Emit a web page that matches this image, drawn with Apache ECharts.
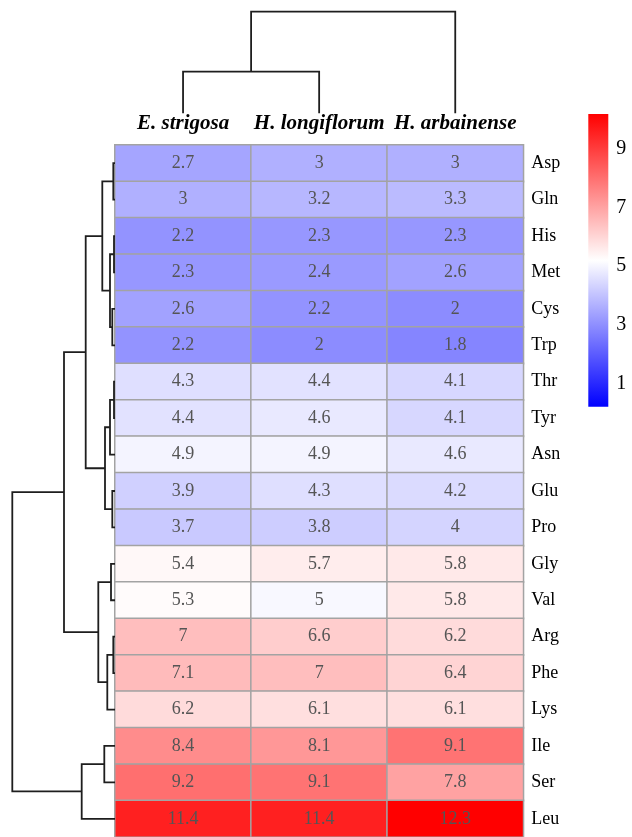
<!DOCTYPE html>
<html>
<head>
<meta charset="utf-8">
<script src="https://cdn.jsdelivr.net/npm/echarts@6/dist/echarts.min.js"></script>
<style>
html,body{margin:0;padding:0;background:#fff;}
#chart{width:632px;height:837px;}
</style>
</head>
<body>
<div id="chart"></div>
<script>
// ---- data ----
const colNames = ['E. strigosa', 'H. longiflorum', 'H. arbainense'];
const rowNames = ['Asp','Gln','His','Met','Cys','Trp','Thr','Tyr','Asn','Glu','Pro','Gly','Val','Arg','Phe','Lys','Ile','Ser','Leu'];
const eStrigosa    = [2.7, 3,   2.2, 2.3, 2.6, 2.2, 4.3, 4.4, 4.9, 3.9, 3.7, 5.4, 5.3, 7,   7.1, 6.2, 8.4, 9.2, 11.4];
const hLongiflorum = [3,   3.2, 2.3, 2.4, 2.2, 2,   4.4, 4.6, 4.9, 4.3, 3.8, 5.7, 5,   6.6, 7,   6.1, 8.1, 9.1, 11.4];
const hArbainense  = [3,   3.3, 2.3, 2.6, 2,   1.8, 4.1, 4.1, 4.6, 4.2, 4,   5.8, 5.8, 6.2, 6.4, 6.1, 9.1, 7.8, 12.3];
// row clustering (hclust-style merge: negative = leaf (1-based), positive = earlier merge), with heights
const rowMerge = [
  [-1, -2, 1.7],
  [-3, -4, 1.0],
  [-5, -6, 2.7],
  [2, 3, 5.0],
  [1, 4, 12.7],
  [-7, -8, 1.0],
  [6, -9, 5.0],
  [-10, -11, 2.7],
  [7, 8, 10.0],
  [5, 9, 29.3],
  [-12, -13, 4.0],
  [-14, -15, 1.7],
  [12, -16, 7.7],
  [11, 13, 16.7],
  [10, 14, 51.0],
  [-17, -18, 10.7],
  [16, -19, 33.3],
  [15, 17, 102.7]
];
const colMerge = [
  [-1, -2, 41.6],
  [1, -3, 101.6]
];
const legendTicks = [1, 3, 5, 7, 9];
const legendRange = [0.2, 10.2];

// ---- build ----
const columns = [eStrigosa, hLongiflorum, hArbainense];
const heatData = [];
columns.forEach((vals, ci) => vals.forEach((v, ri) => heatData.push([ci, ri, v])));

function buildLinks(merge) {
  const pos = [], hgt = [], out = [];
  const info = r => r < 0 ? { p: -r - 1, h: 0 } : { p: pos[r - 1], h: hgt[r - 1] };
  merge.forEach(([a, b, h]) => {
    const A = info(a), B = info(b);
    out.push([A.p, A.h, B.p, B.h, h]);
    pos.push((A.p + B.p) / 2);
    hgt.push(h);
  });
  return out;
}
const rowLinks = buildLinks(rowMerge);
const colLinks = buildLinks(colMerge);

const lineStyle = { stroke: '#1e1e1e', lineWidth: 1.8, fill: null };
function dendroRender(horizontal) {
  return function (params, api) {
    const ap = api.value(0), ah = api.value(1), bp = api.value(2), bh = api.value(3), h = api.value(4);
    const pt = (p, hh) => horizontal ? api.coord([hh, p]) : api.coord([p, hh]);
    return {
      type: 'polyline',
      shape: { points: [pt(ap, ah), pt(ap, h), pt(bp, h), pt(bp, bh)] },
      style: lineStyle
    };
  };
}
function legendRender(params, api) {
  const p0 = api.coord([0, api.value(1)]);
  const p1 = api.coord([1, api.value(0)]);
  return {
    type: 'rect',
    shape: { x: p0[0], y: p0[1], width: p1[0] - p0[0], height: p1[1] - p0[1] },
    style: {
      fill: new echarts.graphic.LinearGradient(0, 0, 0, 1, [
        { offset: 0, color: '#ff0000' },
        { offset: 0.5, color: '#ffffff' },
        { offset: 1, color: '#0000ff' }
      ])
    }
  };
}

const HM_LEFT = 115, HM_WIDTH = 408.3, HM_TOP = 145, HM_HEIGHT = 696.7;
const serif = '"Liberation Serif", "Times New Roman", serif';

const chart = echarts.init(document.getElementById('chart'), null, { renderer: 'canvas' });
chart.setOption({
  animation: false,
  backgroundColor: '#ffffff',
  grid: [
    { left: HM_LEFT, top: HM_TOP, width: HM_WIDTH, height: HM_HEIGHT, containLabel: false },      // heatmap
    { left: 12.3, top: HM_TOP, width: HM_LEFT - 12.3, height: HM_HEIGHT, containLabel: false },   // row dendrogram
    { left: HM_LEFT, top: 11.7, width: HM_WIDTH, height: 101.6, containLabel: false },            // col dendrogram
    { left: 588.3, top: 114, width: 20, height: 292.7, containLabel: false }                      // legend axis
  ],
  xAxis: [
    { type: 'category', gridIndex: 0, data: colNames, position: 'top',
      axisLine: { show: false }, axisTick: { show: false }, splitLine: { show: false },
      axisLabel: { interval: 0, hideOverlap: false, fontFamily: serif, fontSize: 21, fontWeight: 'bold', fontStyle: 'italic', color: '#000', margin: 11 } },
    { type: 'value', gridIndex: 1, min: 0, max: 102.7, inverse: true, show: false },
    { type: 'value', gridIndex: 2, min: -0.5, max: 2.5, show: false },
    { type: 'value', gridIndex: 3, min: 0, max: 1, show: false }
  ],
  yAxis: [
    { type: 'category', gridIndex: 0, data: rowNames, inverse: true, position: 'right',
      axisLine: { show: false }, axisTick: { show: false }, splitLine: { show: false },
      axisLabel: { interval: 0, fontFamily: serif, fontSize: 18, color: '#000', margin: 8 } },
    { type: 'value', gridIndex: 1, min: -0.5, max: 18.5, inverse: true, show: false },
    { type: 'value', gridIndex: 2, min: 0, max: 101.6, show: false },
    { type: 'value', gridIndex: 3, min: legendRange[0], max: legendRange[1], position: 'right',
      axisLine: { show: false }, axisTick: { show: false }, splitLine: { show: false },
      axisLabel: { customValues: legendTicks, fontFamily: serif, fontSize: 20, color: '#000', margin: 8 } }
  ],
  visualMap: [
    { type: 'continuous', show: false, seriesIndex: 0, dimension: 2, min: -1.9, max: 12.3,
      inRange: { color: ['#0000ff', '#ffffff', '#ff0000'] } }
  ],
  series: [
    { type: 'heatmap', xAxisIndex: 0, yAxisIndex: 0, data: heatData,
      itemStyle: { borderColor: '#a3a3a3', borderWidth: 1.5 },
      label: { show: true, fontFamily: serif, fontSize: 18, color: '#555555',
        formatter: p => String(p.value[2]) },
      emphasis: { disabled: true } },
    { type: 'custom', xAxisIndex: 1, yAxisIndex: 1, data: rowLinks, renderItem: dendroRender(true), silent: true },
    { type: 'custom', xAxisIndex: 2, yAxisIndex: 2, data: colLinks, renderItem: dendroRender(false), silent: true },
    { type: 'custom', xAxisIndex: 3, yAxisIndex: 3, data: [legendRange], renderItem: legendRender, silent: true }
  ]
});
</script>
</body>
</html>
